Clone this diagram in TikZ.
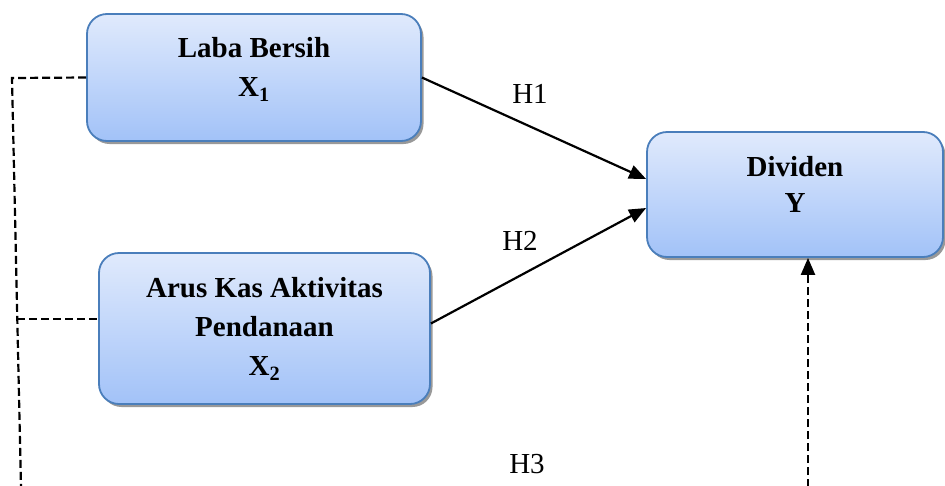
\documentclass[tikz,border=0pt]{standalone}
\usepackage{fontspec}
\setmainfont{Liberation Serif}
\usetikzlibrary{arrows.meta,shadows,calc}
\definecolor{boxtop}{RGB}{224,234,252}
\definecolor{boxbot}{RGB}{162,194,248}
\definecolor{boxedge}{RGB}{74,126,187}
\tikzset{
  varbox/.style={draw=boxedge, line width=1.8pt, rounded corners=20pt,
    top color=boxtop, bottom color=boxbot,
    drop shadow={shadow xshift=2.5pt, shadow yshift=-3pt, fill=black!40, opacity=1},
    inner sep=0pt},
  boxtext/.style={align=center, inner sep=0pt,
    font=\bfseries\fontsize{29}{39}\selectfont},
  tiphead/.style={-{Triangle[length=17pt,width=14pt]}},
  hyparrow/.style={line width=2.2pt, tiphead},
  dashline/.style={line width=2.2pt, dash pattern=on 8pt off 4pt},
  hlabel/.style={font=\fontsize{29}{34}\selectfont, inner sep=0pt}
}
\begin{document}
\begin{tikzpicture}[x=1pt,y=-1pt]
\useasboundingbox (0,0) rectangle (945,485);
\node[varbox, minimum width=334pt, minimum height=127pt] (x1) at (254,77.5) {};
\node[boxtext] (x1t) at ($(x1)+(0,-8)$) {Laba Bersih\\X\textsubscript{1}};
\node[varbox, minimum width=331pt, minimum height=151pt] (x2) at (264.5,328.5) {};
\node[boxtext] (x2t) at (x2) {Arus Kas Aktivitas\\Pendanaan\\X\textsubscript{2}};
\node[varbox, minimum width=296pt, minimum height=125pt] (y) at (795,194.5) {};
\node[boxtext, font=\bfseries\fontsize{29}{36}\selectfont] (yt) at ($(y)+(0,-10)$) {Dividen\\Y};
\draw[hyparrow] (x1.east) -- ($(y.west)+(0,-15.5)$);
\draw[hyparrow] ($(x2.east)+(0,-5)$) -- ($(y.west)+(0,13.5)$);
\node[hlabel] (h1) at (530,94) {H1};
\node[hlabel] (h2) at (520,241) {H2};
\node[hlabel] (h3) at (527,464) {H3};
\coordinate (ltop) at (12,78);
\coordinate (lmid) at (17.3,319);
\coordinate (lbot) at (21,487);
\coordinate (rbot) at (808,487);
\draw[dashline] (x1.west) -- (ltop) -- (lbot);
\draw[dashline] (lmid) -- (x2.west |- lmid);
\draw[dashline, tiphead] (rbot) -- (rbot |- y.south);
\end{tikzpicture}
\end{document}
